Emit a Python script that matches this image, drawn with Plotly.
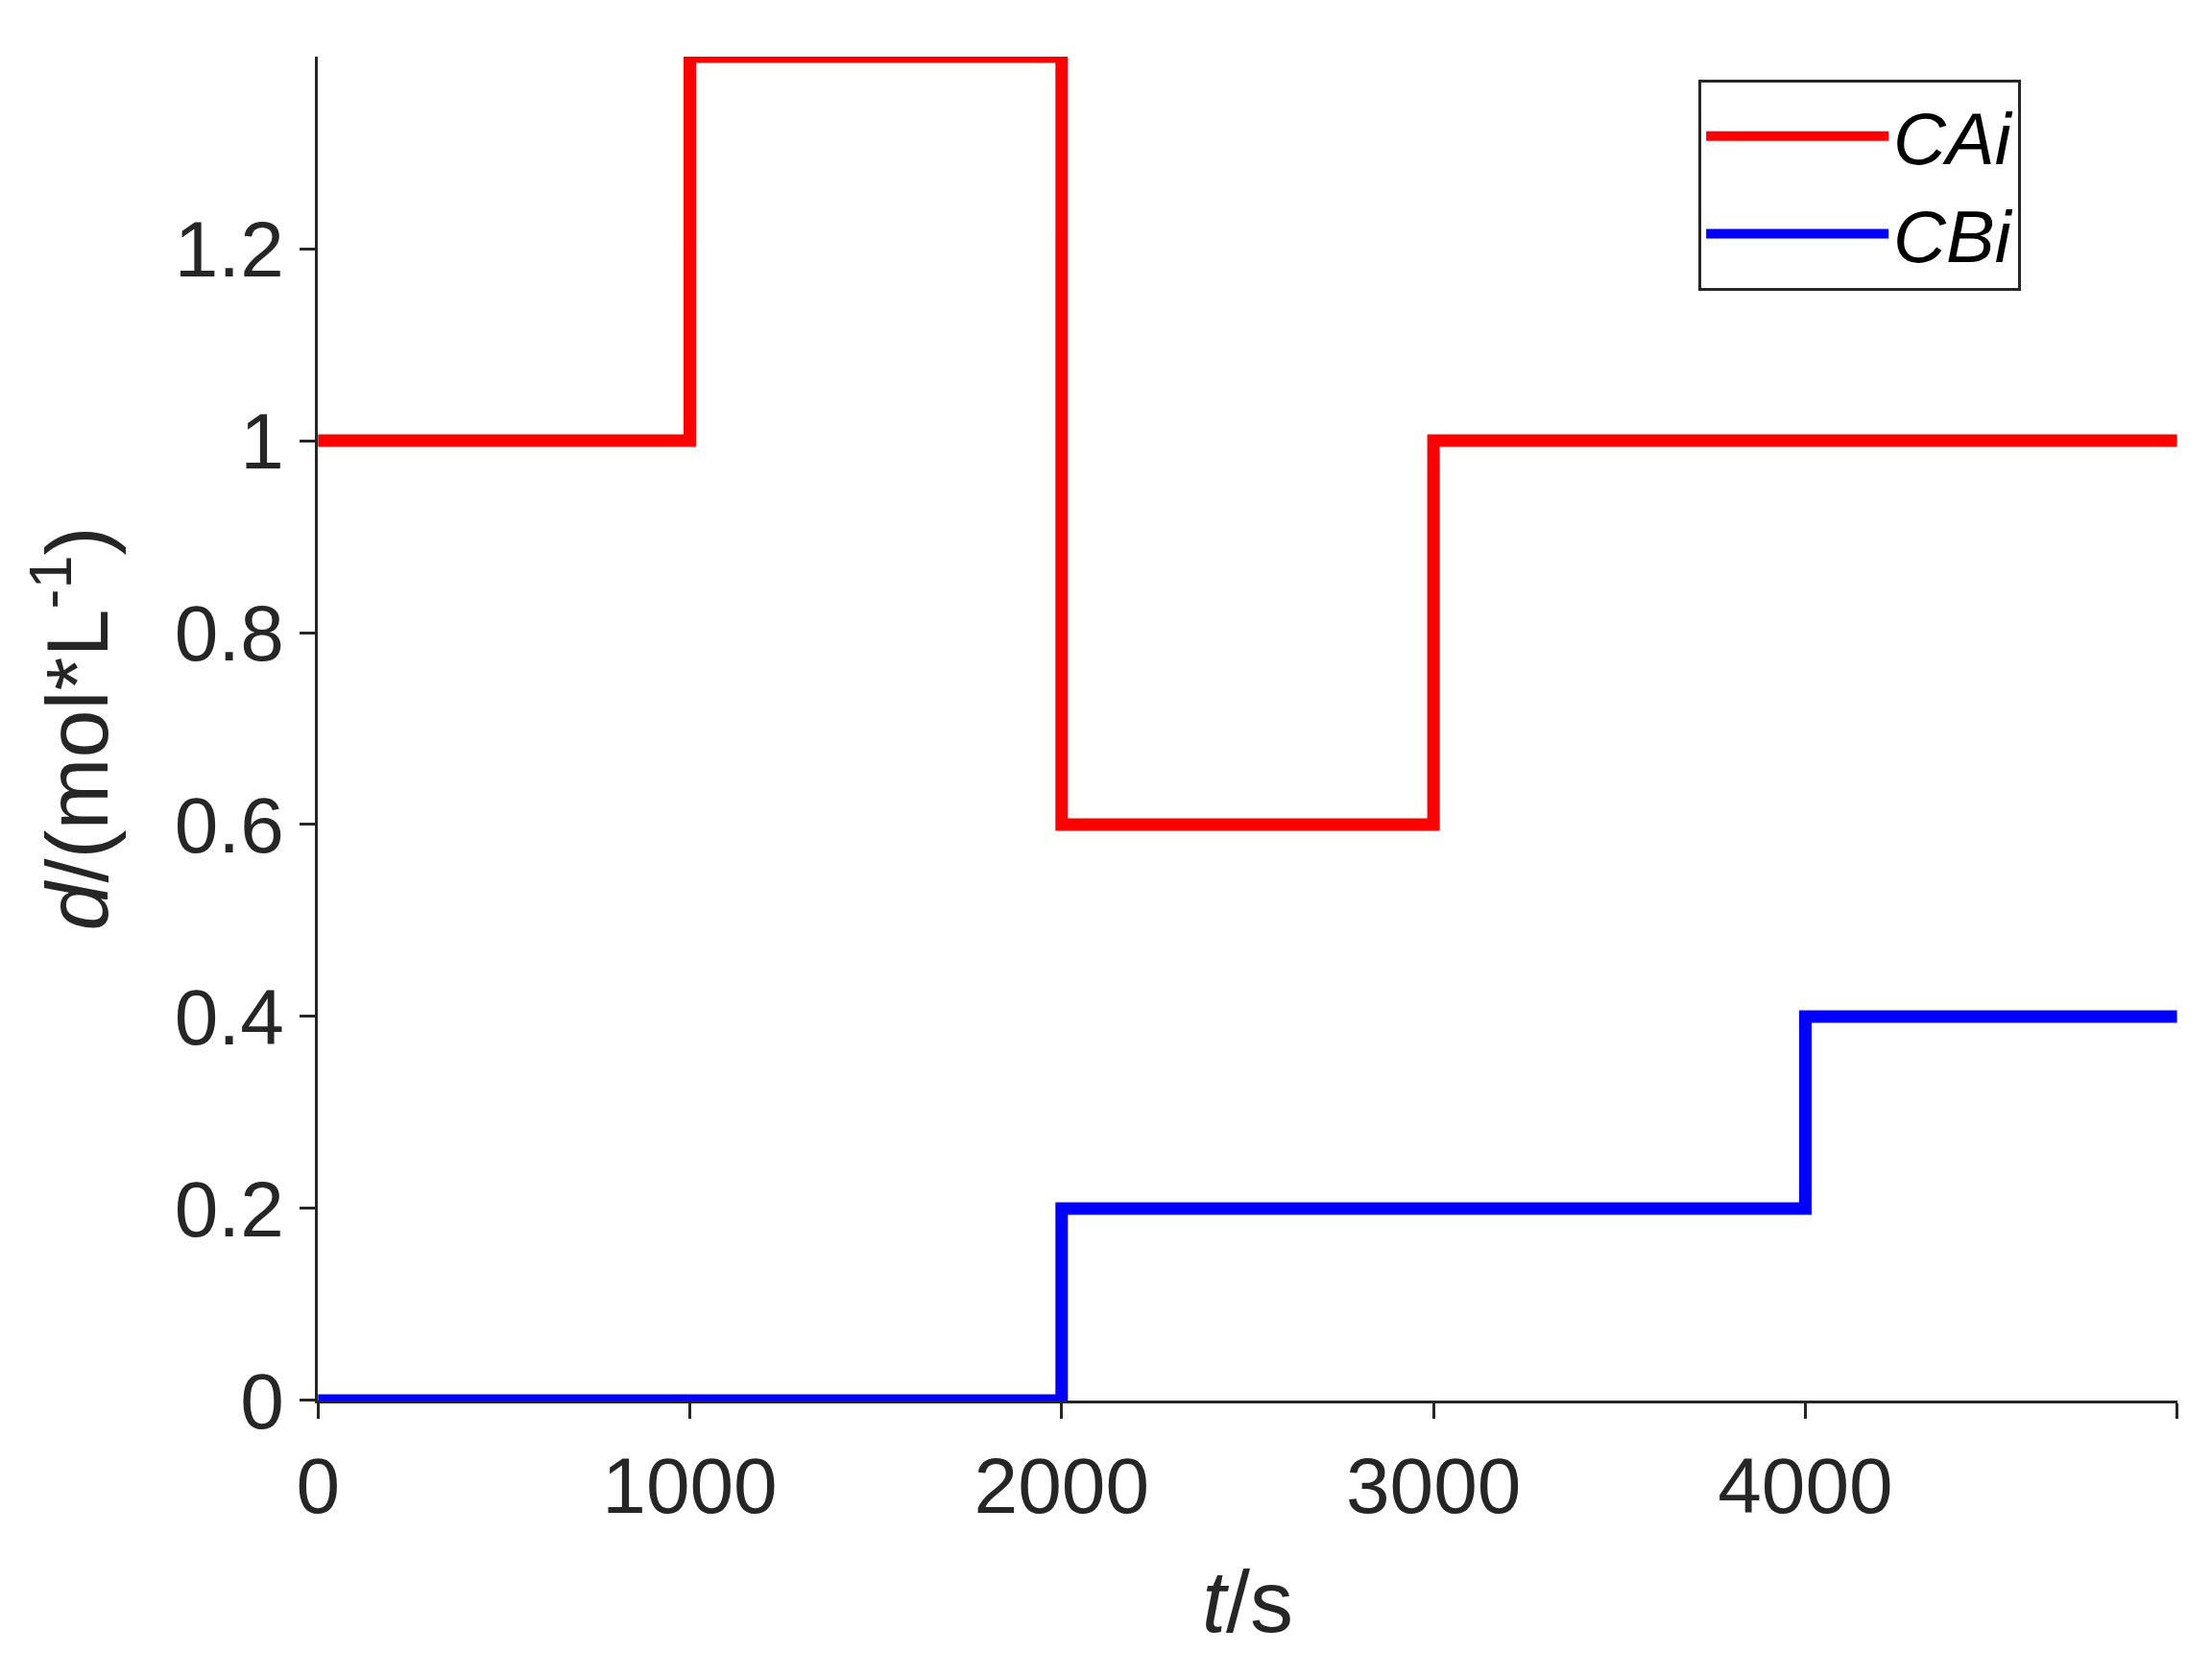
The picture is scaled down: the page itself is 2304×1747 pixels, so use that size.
import plotly.graph_objects as go

t_s = [0, 1000, 2000, 3000, 4000, 5000]
c_ai = [1.0, 1.4, 0.6, 1.0, 1.0, 1.0]
c_bi = [0.0, 0.0, 0.2, 0.2, 0.4, 0.4]
x_ticks = [0, 1000, 2000, 3000, 4000, 5000]
y_ticks = [0, 0.2, 0.4, 0.6, 0.8, 1, 1.2]
y_labels = ["0", "0.2", "0.4", "0.6", "0.8", "1", "1.2"]

fig = go.Figure()
fig.add_trace(go.Scatter(x=t_s, y=c_ai, mode="lines", line_shape="hv",
                         line=dict(color="#ff0000", width=13), name="<i>CAi</i>"))
fig.add_trace(go.Scatter(x=t_s, y=c_bi, mode="lines", line_shape="hv",
                         line=dict(color="#0000ff", width=13), name="<i>CBi</i>"))

axis_font = dict(family="Arial, Liberation Sans", size=82, color="#262626")
fig.update_layout(
    width=2304, height=1747,
    paper_bgcolor="white", plot_bgcolor="white",
    font=axis_font,
    margin=dict(l=0, r=0, t=0, b=0),
    showlegend=True,
    legend=dict(x=0.762, y=0.956, xanchor="left", yanchor="top",
                bordercolor="#262626", borderwidth=3, bgcolor="white",
                font=dict(family="Arial, Liberation Sans", size=76, color="black"),
                itemwidth=190, tracegroupgap=0),
)
fig.update_xaxes(
    domain=[0.1316, 0.9806], range=[0, 5000], tickvals=x_ticks,
    showgrid=False, zeroline=False, showline=True, linecolor="#262626", linewidth=3,
    ticks="outside", ticklen=16, tickwidth=3, tickcolor="#262626",
    title=dict(text="<i>t</i>/s", font=dict(family="Arial, Liberation Sans", size=90, color="#262626"), standoff=45),
)
fig.update_yaxes(
    domain=[0.147, 0.970], range=[0, 1.4], tickvals=y_ticks, ticktext=y_labels,
    showgrid=False, zeroline=False, showline=True, linecolor="#262626", linewidth=3,
    ticks="outside", ticklen=16, tickwidth=3, tickcolor="#262626",
    title=dict(text="<i>d</i>/(mol*L<sup>-1</sup>)", font=dict(family="Arial, Liberation Sans", size=90, color="#262626"), standoff=40),
)
fig.write_html("out.html")
